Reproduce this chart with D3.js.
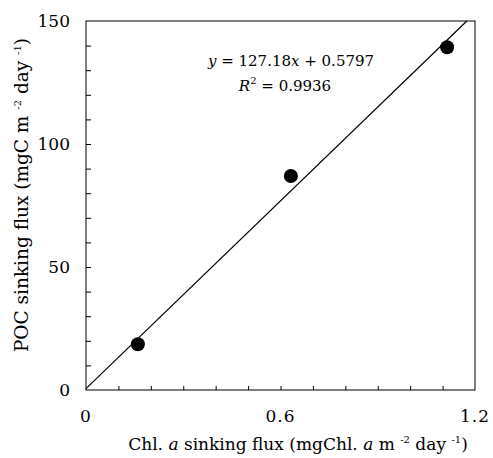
<!DOCTYPE html>
<html>
<head>
<meta charset="utf-8">
<script src="https://cdn.jsdelivr.net/npm/d3@7"></script>
<style>
  body { margin: 0; background: #fff; }
  svg text { font-family: "DejaVu Serif", "Liberation Serif", serif; fill: #000; }
</style>
</head>
<body>
<div id="chart"></div>
<script>
// chlorophyll a sinking flux vs POC sinking flux
var chlFlux = [0.16, 0.632, 1.114];
var pocFlux = [18.6, 87, 139.3];
var slope = 127.18, intercept = 0.5797;
var xTickLabels = [0, 0.6, 1.2];
var yTickLabels = [0, 50, 100, 150];

var W = 493, H = 458,
    margin = {top: 21, right: 18, bottom: 68, left: 86},
    width = W - margin.left - margin.right,
    height = H - margin.top - margin.bottom;

var svg = d3.select("#chart").append("svg")
    .attr("width", W)
    .attr("height", H);

var g = svg.append("g").attr("transform", "translate(" + margin.left + "," + margin.top + ")");

var x = d3.scaleLinear().domain([0, 1.2]).range([0, width]);
var y = d3.scaleLinear().domain([0, 150]).range([height, 0]);

// frame
g.append("rect")
    .attr("width", width).attr("height", height)
    .attr("fill", "none").attr("stroke", "#000").attr("stroke-width", 1);

// minor ticks inside
g.append("g")
    .attr("transform", "translate(0," + height + ")")
    .call(d3.axisTop(x).tickValues(d3.range(1, 12).map(function(i) { return i / 10; })).tickSize(4).tickFormat(""))
    .call(function(a) { a.select(".domain").remove(); });

g.append("g")
    .call(d3.axisRight(y).tickValues(d3.range(1, 15).map(function(i) { return i * 10; })).tickSize(5).tickFormat(""))
    .call(function(a) { a.select(".domain").remove(); });

// tick labels
g.selectAll(".xl").data(xTickLabels).enter().append("text")
    .attr("x", function(d) { return x(d); })
    .attr("y", height + 32)
    .attr("text-anchor", "middle")
    .attr("font-size", 17)
    .attr("letter-spacing", 1)
    .text(function(d) { return d; });

g.selectAll(".yl").data(yTickLabels).enter().append("text")
    .attr("x", -16)
    .attr("y", function(d) { return y(d); })
    .attr("dy", "0.35em")
    .attr("text-anchor", "end")
    .attr("font-size", 17)
    .text(function(d) { return d; });

// regression line, clipped to frame
var xEnd = (150 - intercept) / slope;
g.append("line")
    .attr("x1", x(0)).attr("y1", y(intercept))
    .attr("x2", x(xEnd)).attr("y2", y(150))
    .attr("stroke", "#000").attr("stroke-width", 1.2);

// points
g.selectAll("circle").data(chlFlux).enter().append("circle")
    .attr("cx", function(d) { return x(d); })
    .attr("cy", function(d, i) { return y(pocFlux[i]); })
    .attr("r", 7)
    .attr("fill", "#000");

// equation
var eq = g.append("text").attr("x", 205).attr("y", 45).attr("text-anchor", "middle").attr("font-size", 15);
eq.append("tspan").attr("font-style", "italic").text("y");
eq.append("tspan").text(" = 127.18");
eq.append("tspan").attr("font-style", "italic").text("x");
eq.append("tspan").text(" + 0.5797");

var r2 = g.append("text").attr("x", 199).attr("y", 70).attr("text-anchor", "middle").attr("font-size", 15);
r2.append("tspan").attr("font-style", "italic").text("R");
r2.append("tspan").attr("font-size", 10).attr("dy", -7).text("2");
r2.append("tspan").attr("dy", 7).text(" = 0.9936");

// axis titles
var xt = svg.append("text")
    .attr("x", 298).attr("y", 450)
    .attr("text-anchor", "middle").attr("font-size", 17);
xt.append("tspan").text("Chl. ");
xt.append("tspan").attr("font-style", "italic").text("a");
xt.append("tspan").text(" sinking flux (mgChl. ");
xt.append("tspan").attr("font-style", "italic").text("a");
xt.append("tspan").text(" m ");
xt.append("tspan").attr("font-size", 10).attr("dy", -7).text("-2");
xt.append("tspan").attr("dy", 7).text(" day ");
xt.append("tspan").attr("font-size", 10).attr("dy", -7).text("-1");
xt.append("tspan").attr("dy", 7).text(")");

var yt = svg.append("text")
    .attr("transform", "translate(28,195) rotate(-90)")
    .attr("text-anchor", "middle").attr("font-size", 18.5);
yt.append("tspan").text("POC sinking flux (mgC m ");
yt.append("tspan").attr("font-size", 10).attr("dy", -7).text("-2");
yt.append("tspan").attr("dy", 7).text(" day ");
yt.append("tspan").attr("font-size", 10).attr("dy", -7).text("-1");
yt.append("tspan").attr("dy", 7).text(")");
</script>
</body>
</html>
